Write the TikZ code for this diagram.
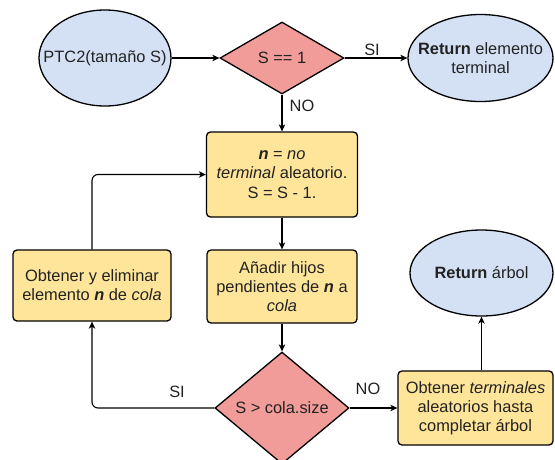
\documentclass[tikz,border=0pt]{standalone}
\usepackage{fontspec}
\setmainfont{Liberation Sans}
\usetikzlibrary{shapes.geometric,arrows.meta}
\definecolor{startfill}{HTML}{D4E1F5}
\definecolor{testfill}{HTML}{F19C99}
\definecolor{taskfill}{HTML}{FFE599}
\definecolor{ink}{HTML}{222222}

\begin{document}
\begin{tikzpicture}[x=1pt,y=-1pt,
  every node/.style={font=\fontsize{16.4}{19.2}\selectfont, text=ink},
  term/.style={ellipse, draw=black, line width=1.3pt, fill=startfill, inner sep=0pt},
  test/.style={diamond, draw=black, line width=1.3pt, fill=testfill, inner sep=0pt},
  task/.style={rectangle, rounded corners=4pt, draw=black, line width=1.3pt,
               fill=taskfill, inner sep=0pt, align=center},
  flow/.style={line width=1.1pt, -{Stealth[length=7pt,width=6.5pt,inset=2pt]}},
  tag/.style={inner sep=0pt}
]
\useasboundingbox (0,0) rectangle (555,459);

% start / end ellipses (text set in separate nodes on top)
\node[term, minimum width=132pt, minimum height=96pt] (ptc) at (105,58) {};
\node[align=center] (ptctxt) at (ptc) {PTC2(tamaño S)};
\node[term, minimum width=145pt, minimum height=87pt] (ret1) at (480.5,58) {};
\node[align=center] (ret1txt) at (ret1) {\textbf{Return} elemento\\terminal};
\node[term, minimum width=143pt, minimum height=86pt] (ret2) at (481.5,273) {};
\node[align=center] (ret2txt) at (ret2) {\textbf{Return} árbol};

% decisions
\node[test, minimum width=124pt, minimum height=72pt] (d1) at (282,58) {S == 1};
\node[test, minimum width=134pt, minimum height=112pt] (d2) at (282,408) {S > cola.size};

% process steps
\node[task, minimum width=151pt, minimum height=85pt] (b1) at (282,174.5)
  {\textbf{\textit{n}} = \textit{no}\\\textit{terminal} aleatorio.\\S = S - 1.};
\node[task, minimum width=150pt, minimum height=73pt] (b2) at (282,286.5)
  {Añadir hijos\\pendientes de \textbf{\textit{n}} a\\\textit{cola}};
\node[task, minimum width=158pt, minimum height=71pt] (b3) at (92,285.5)
  {Obtener y eliminar\\elemento \textbf{\textit{n}} de \textit{cola}};
\node[task, minimum width=155pt, minimum height=74pt] (b4) at (475.5,408)
  {Obtener \textit{terminales}\\aleatorios hasta\\completar árbol};

% connectors
\draw[flow] (ptc.east) -- (d1.west);
\draw[flow] (d1.east) -- (ret1.west);
\draw[flow] (d1.south) -- (b1.north);
\draw[flow] (b1.south) -- (b2.north);
\draw[flow] (b2.south) -- (d2.north);
\draw[flow, rounded corners=6pt] (d2.west) -| (b3.south);
\draw[flow, rounded corners=6pt] (b3.north) |- (b1.west);
\draw[flow] (d2.east) -- (b4.west);
\draw[flow] (ret2.south |- b4.north) -- (ret2.south);

% branch labels
\node[tag] (si1) at (372,50) {SI};
\node[tag] (no1) at (302,106) {NO};
\node[tag] (si2) at (177,392) {SI};
\node[tag] (no2) at (368,389) {NO};
\end{tikzpicture}
\end{document}
